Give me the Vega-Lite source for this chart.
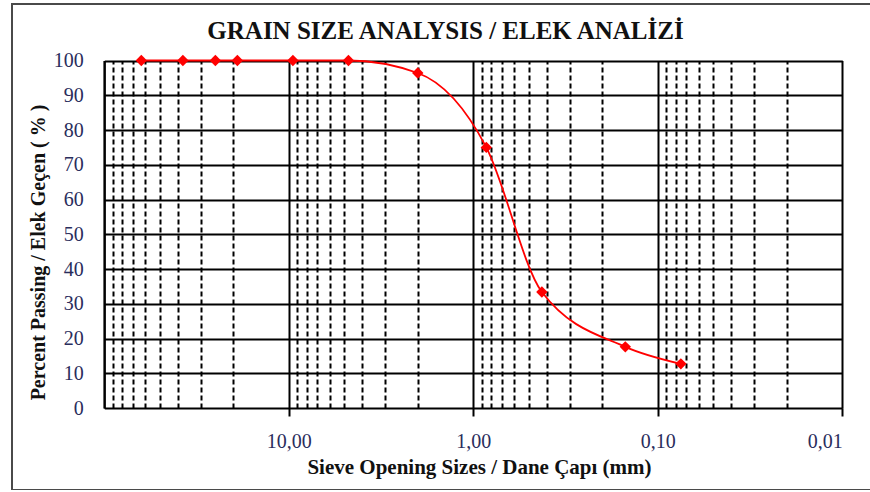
{
  "$schema": "https://vega.github.io/schema/vega-lite/v6.json",
  "autosize": "none",
  "width": 870,
  "height": 486,
  "padding": {"left": 12, "top": 4, "right": 0, "bottom": 0},
  "background": "white",
  "config": {
    "view": {"stroke": "#4a4a4a", "strokeWidth": 2},
    "font": "Liberation Serif"
  },
  "data": {
    "values": [
      {"size": 63, "pass": 100},
      {"size": 37.5, "pass": 100},
      {"size": 25, "pass": 100},
      {"size": 19, "pass": 100},
      {"size": 9.5, "pass": 100},
      {"size": 4.75, "pass": 100},
      {"size": 2.0, "pass": 96.4},
      {"size": 0.85, "pass": 75},
      {"size": 0.425, "pass": 33.4},
      {"size": 0.15, "pass": 17.6},
      {"size": 0.075, "pass": 12.7}
    ]
  },
  "layer": [
    {
      "mark": {"type": "line", "color": "#ff0000", "strokeWidth": 1.8, "interpolate": "monotone"},
      "encoding": {
        "x": {
          "field": "size", "type": "quantitative",
          "scale": {"type": "log", "domain": [100, 0.01], "range": [92.3, 830.3], "nice": false},
          "axis": {
            "orient": "bottom",
            "offset": -82,
            "values": [10, 1, 0.1, 0.01],
            "labelExpr": "datum.value == 10 ? '10,00' : datum.value == 1 ? '1,00' : datum.value == 0.1 ? '0,10' : '0,01'",
            "domain": false,
            "grid": false,
            "ticks": true, "tickSize": 8, "tickWidth": 2, "tickColor": "#000000",
            "labelFont": "Liberation Serif", "labelFontSize": 20, "labelColor": "#2a2d5c", "labelPadding": 15,
            "title": "Sieve Opening Sizes / Dane Çapı  (mm)",
            "titleFont": "Liberation Serif", "titleFontSize": 21, "titleFontWeight": "bold", "titleColor": "#111111",
            "titleX": 467, "titleY": 59, "titleBaseline": "middle", "titleAnchor": "middle"
          }
        },
        "y": {
          "field": "pass", "type": "quantitative",
          "scale": {"domain": [0, 100], "range": [404, 56.5], "nice": false, "zero": false},
          "axis": {
            "orient": "left",
            "offset": -92.3,
            "values": [0, 10, 20, 30, 40, 50, 60, 70, 80, 90, 100],
            "domain": true, "domainColor": "#000000", "domainWidth": 2,
            "grid": true, "gridColor": "#000000", "gridWidth": 2, "gridOpacity": 1,
            "ticks": false,
            "labelFont": "Liberation Serif", "labelFontSize": 20, "labelColor": "#2a2d5c", "labelPadding": 21,
            "title": "Percent Passing / Elek Geçen ( % )",
            "titleFont": "Liberation Serif", "titleFontSize": 20, "titleFontWeight": "bold", "titleColor": "#111111",
            "titleX": -66, "titleY": 248, "titleAngle": -90, "titleBaseline": "middle", "titleAnchor": "middle"
          }
        }
      }
    },
    {
      "mark": {"type": "point", "shape": "diamond", "filled": true, "color": "#ff0000", "size": 130, "opacity": 1},
      "encoding": {
        "x": {
          "field": "size", "type": "quantitative",
          "scale": {"type": "log", "domain": [100, 0.01], "range": [92.3, 830.3], "nice": false},
          "axis": {
            "orient": "top",
            "values": [100, 90, 80, 70, 60, 50, 40, 30, 20, 10, 9, 8, 7, 6, 5, 4, 3, 2, 1, 0.9, 0.8, 0.7, 0.6, 0.5, 0.4, 0.3, 0.2, 0.1, 0.09, 0.08, 0.07, 0.06, 0.05, 0.04, 0.03, 0.02, 0.01],
            "domain": false, "ticks": false, "labels": false,
            "title": "GRAIN SIZE ANALYSIS / ELEK ANALİZİ",
            "titleFont": "Liberation Serif", "titleFontSize": 25, "titleFontWeight": "bold", "titleColor": "#111111",
            "titleX": 433, "titleY": 34, "titleBaseline": "alphabetic", "titleAnchor": "middle",
            "grid": true, "gridColor": "#000000", "gridWidth": 2, "gridOpacity": 1,
            "gridDash": {"condition": {"test": "indexof([100, 10, 1, 0.1, 0.01], datum.value) >= 0", "value": []}, "value": [5, 3]}
          }
        },
        "y": {
          "field": "pass", "type": "quantitative",
          "scale": {"domain": [0, 100], "range": [404, 56.5], "nice": false, "zero": false}
        }
      }
    }
  ],
  "resolve": {"axis": {"x": "independent"}}
}
